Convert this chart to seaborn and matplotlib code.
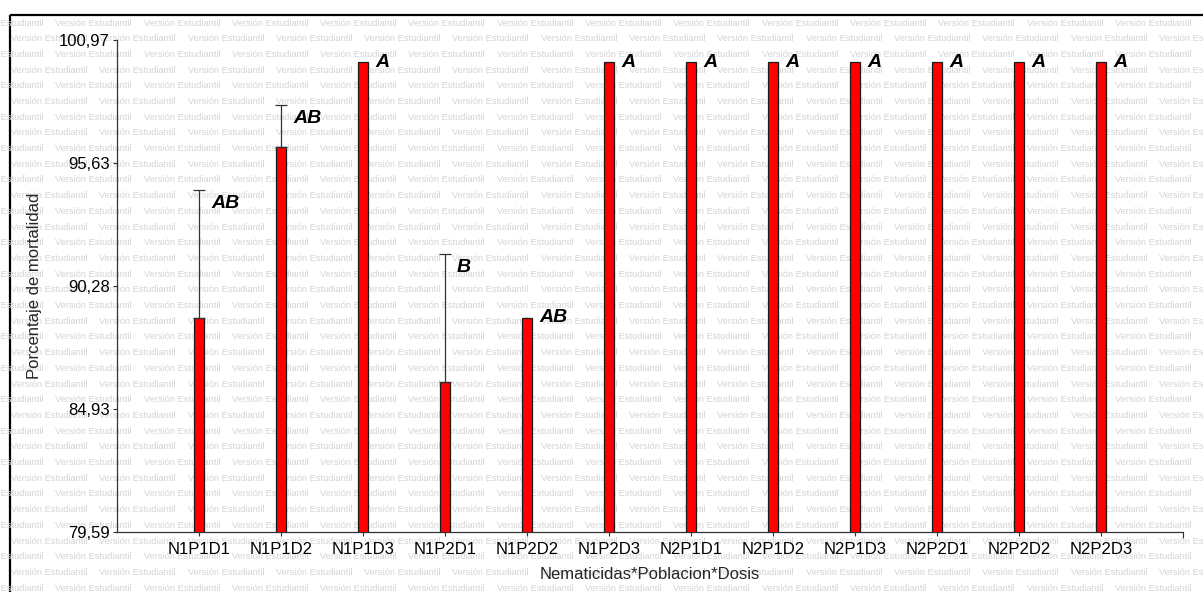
import matplotlib
matplotlib.use("Agg")
import matplotlib.pyplot as plt
import seaborn as sns
import numpy as np
from matplotlib.patches import Rectangle
from matplotlib.ticker import FixedLocator

# ---- data ----
categories = ["N1P1D1", "N1P1D2", "N1P1D3", "N1P2D1", "N1P2D2", "N1P2D3",
              "N2P1D1", "N2P1D2", "N2P1D3", "N2P2D1", "N2P2D2", "N2P2D3"]
means = [88.89, 96.30, 100.0, 86.11, 88.89, 100.0,
         100.0, 100.0, 100.0, 100.0, 100.0, 100.0]
errors = [5.56, 1.85, 0.0, 5.56, 0.0, 0.0,
          0.0, 0.0, 0.0, 0.0, 0.0, 0.0]
letters = ["AB", "AB", "A", "B", "AB", "A", "A", "A", "A", "A", "A", "A"]
ytick_values = [79.59, 84.93, 90.28, 95.63, 100.97]
ytick_labels = ["79,59", "84,93", "90,28", "95,63", "100,97"]
xlabel = "Nematicidas*Poblacion*Dosis"
ylabel = "Porcentaje de mortalidad"
watermark = "Versión Estudiantil"

sns.set_style("ticks")
plt.rcParams['font.family'] = ['Liberation Sans', 'DejaVu Sans']

W, H = 1203, 592
fig = plt.figure(figsize=(W / 100, H / 100), dpi=100)
fig.patch.set_facecolor("white")

# ---- background: frame + watermark ----
bg = fig.add_axes([0, 0, 1, 1], zorder=0)
bg.set_xlim(0, W)
bg.set_ylim(H, 0)
bg.axis("off")
frame = Rectangle((10, 15), W + 20, H + 20, facecolor="none",
                  edgecolor="black", linewidth=1.6, zorder=3)
bg.add_patch(frame)
clip = Rectangle((11, 16), W + 20, H + 20, transform=bg.transData,
                 facecolor="none", edgecolor="none")
bg.add_patch(clip)
row = 0
y = 23.0
while y < H + 10:
    x0 = -33.0 if row % 2 == 0 else 11.0
    x = x0
    while x < W + 10:
        t = bg.text(x, y, watermark, fontsize=6.7, color="#d4d4d4",
                    ha="left", va="center", family="Liberation Sans")
        t.set_clip_path(clip)
        x += 88.3
    y += 15.7
    row += 1

# ---- main axes ----
ax = fig.add_axes([117 / W, 1 - 532 / H, (1183 - 117) / W, (532 - 40) / H], zorder=2)
ax.patch.set_alpha(0)

sns.barplot(x=categories, y=means, color="#ff0000", saturation=1,
            edgecolor="#1a1a1a", linewidth=0.9, width=0.134, ax=ax, zorder=3)

xs = np.arange(len(categories))
err_arr = np.array(errors)
mask = err_arr > 0
ax.errorbar(xs[mask], np.array(means)[mask],
            yerr=[np.zeros(mask.sum()), err_arr[mask]],
            fmt="none", ecolor="#333333", elinewidth=0.9, capsize=4.3,
            capthick=0.9, zorder=4)

for i, (m, e, lab) in enumerate(zip(means, errors, letters)):
    top = m + e
    off = -10 if e > 0 else 0
    ax.annotate(lab, xy=(i, top), xytext=(8.6, off), textcoords="offset points",
                ha="left", va="center", fontsize=14, fontweight="bold",
                fontstyle="italic", color="black", zorder=5)

ax.set_xlim(-1, 12)
ax.set_ylim(ytick_values[0], ytick_values[-1])
ax.set_yticks(ytick_values)
ax.set_yticklabels(ytick_labels)
ax.xaxis.set_minor_locator(FixedLocator([12]))
ax.tick_params(axis="both", which="both", direction="out", length=3,
               width=0.8, color="#333333", labelsize=12, pad=2,
               labelcolor="black")
ax.tick_params(axis="x", which="both", pad=4)
ax.tick_params(axis="x", which="minor", length=4)

for s in ["top", "right"]:
    ax.spines[s].set_visible(False)
for s in ["left", "bottom"]:
    ax.spines[s].set_linewidth(0.9)
    ax.spines[s].set_color("#333333")

ax.set_xlabel(xlabel, fontsize=12)
ax.set_ylabel(ylabel, fontsize=12)
ax.xaxis.set_label_coords(0.5, -0.071)
ax.yaxis.set_label_coords(-0.070, 0.5)

fig.savefig("out.png", dpi=100, facecolor="white")
